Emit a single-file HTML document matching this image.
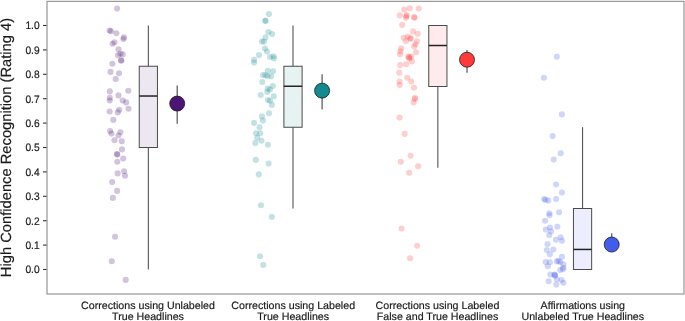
<!DOCTYPE html>
<html><head><meta charset="utf-8"><title>chart</title>
<style>
html,body{margin:0;padding:0;background:#fff;}
body{width:685px;height:321px;overflow:hidden;}
svg{display:block;}
text{text-rendering:geometricPrecision;stroke:#1a1a1a;stroke-width:0.18px;font-family:"Liberation Sans",Arial,sans-serif;fill:#1a1a1a;}
</style></head><body>
<svg width="685" height="321" viewBox="0 0 685 321">
<rect x="0" y="0" width="685" height="321" fill="#fff"/>
<rect x="47" y="1.38" width="637" height="292.62" fill="none" stroke="#9a9a9a" stroke-width="1.25"/>

<line x1="43" y1="269.50" x2="46.6" y2="269.50" stroke="#333" stroke-width="1.1"/>
<text transform="translate(39.6,273.45) scale(1,1.06)" font-size="10.2" text-anchor="end">0.0</text>
<line x1="43" y1="245.10" x2="46.6" y2="245.10" stroke="#333" stroke-width="1.1"/>
<text transform="translate(39.6,249.05) scale(1,1.06)" font-size="10.2" text-anchor="end">0.1</text>
<line x1="43" y1="220.70" x2="46.6" y2="220.70" stroke="#333" stroke-width="1.1"/>
<text transform="translate(39.6,224.65) scale(1,1.06)" font-size="10.2" text-anchor="end">0.2</text>
<line x1="43" y1="196.30" x2="46.6" y2="196.30" stroke="#333" stroke-width="1.1"/>
<text transform="translate(39.6,200.25) scale(1,1.06)" font-size="10.2" text-anchor="end">0.3</text>
<line x1="43" y1="171.90" x2="46.6" y2="171.90" stroke="#333" stroke-width="1.1"/>
<text transform="translate(39.6,175.85) scale(1,1.06)" font-size="10.2" text-anchor="end">0.4</text>
<line x1="43" y1="147.50" x2="46.6" y2="147.50" stroke="#333" stroke-width="1.1"/>
<text transform="translate(39.6,151.45) scale(1,1.06)" font-size="10.2" text-anchor="end">0.5</text>
<line x1="43" y1="123.10" x2="46.6" y2="123.10" stroke="#333" stroke-width="1.1"/>
<text transform="translate(39.6,127.05) scale(1,1.06)" font-size="10.2" text-anchor="end">0.6</text>
<line x1="43" y1="98.70" x2="46.6" y2="98.70" stroke="#333" stroke-width="1.1"/>
<text transform="translate(39.6,102.65) scale(1,1.06)" font-size="10.2" text-anchor="end">0.7</text>
<line x1="43" y1="74.30" x2="46.6" y2="74.30" stroke="#333" stroke-width="1.1"/>
<text transform="translate(39.6,78.25) scale(1,1.06)" font-size="10.2" text-anchor="end">0.8</text>
<line x1="43" y1="49.90" x2="46.6" y2="49.90" stroke="#333" stroke-width="1.1"/>
<text transform="translate(39.6,53.85) scale(1,1.06)" font-size="10.2" text-anchor="end">0.9</text>
<line x1="43" y1="25.50" x2="46.6" y2="25.50" stroke="#333" stroke-width="1.1"/>
<text transform="translate(39.6,29.45) scale(1,1.06)" font-size="10.2" text-anchor="end">1.0</text>
<text transform="translate(11.3,147.5) rotate(-90)" font-size="14.73" text-anchor="middle" fill="#111">High Confidence Recognition (Rating 4)</text>
<g fill="#4c1475" fill-opacity="0.25">
<circle cx="117.1" cy="8.6" r="3.05"/>
<circle cx="109.6" cy="30.6" r="3.05"/>
<circle cx="111.0" cy="31.3" r="3.05"/>
<circle cx="116.4" cy="33.2" r="3.05"/>
<circle cx="123.9" cy="37.4" r="3.05"/>
<circle cx="123.4" cy="39.0" r="3.05"/>
<circle cx="114.5" cy="42.3" r="3.05"/>
<circle cx="112.6" cy="43.7" r="3.05"/>
<circle cx="118.5" cy="49.3" r="3.05"/>
<circle cx="120.4" cy="53.7" r="3.05"/>
<circle cx="122.7" cy="54.4" r="3.05"/>
<circle cx="118.0" cy="55.3" r="3.05"/>
<circle cx="121.1" cy="60.2" r="3.05"/>
<circle cx="121.3" cy="60.8" r="3.05"/>
<circle cx="112.4" cy="63.7" r="3.05"/>
<circle cx="110.5" cy="71.9" r="3.05"/>
<circle cx="119.0" cy="73.3" r="3.05"/>
<circle cx="115.7" cy="79.0" r="3.05"/>
<circle cx="128.3" cy="90.7" r="3.05"/>
<circle cx="109.8" cy="91.4" r="3.05"/>
<circle cx="118.5" cy="95.4" r="3.05"/>
<circle cx="109.8" cy="97.7" r="3.05"/>
<circle cx="109.8" cy="100.5" r="3.05"/>
<circle cx="122.7" cy="100.5" r="3.05"/>
<circle cx="126.2" cy="102.4" r="3.05"/>
<circle cx="128.5" cy="108.7" r="3.05"/>
<circle cx="119.2" cy="109.8" r="3.05"/>
<circle cx="117.8" cy="112.4" r="3.05"/>
<circle cx="109.6" cy="111.5" r="3.05"/>
<circle cx="113.3" cy="119.9" r="3.05"/>
<circle cx="110.1" cy="131.1" r="3.05"/>
<circle cx="111.5" cy="133.6" r="3.05"/>
<circle cx="120.4" cy="132.2" r="3.05"/>
<circle cx="118.5" cy="135.5" r="3.05"/>
<circle cx="114.5" cy="140.3" r="3.05"/>
<circle cx="121.8" cy="141.2" r="3.05"/>
<circle cx="122.0" cy="149.4" r="3.05"/>
<circle cx="117.0" cy="154.1" r="3.05"/>
<circle cx="117.3" cy="154.6" r="3.05"/>
<circle cx="123.2" cy="158.5" r="3.05"/>
<circle cx="117.3" cy="161.8" r="3.05"/>
<circle cx="124.1" cy="171.3" r="3.05"/>
<circle cx="117.6" cy="173.4" r="3.05"/>
<circle cx="125.0" cy="175.8" r="3.05"/>
<circle cx="112.2" cy="182.1" r="3.05"/>
<circle cx="117.1" cy="190.9" r="3.05"/>
<circle cx="112.9" cy="197.9" r="3.05"/>
<circle cx="115.0" cy="236.8" r="3.05"/>
<circle cx="111.8" cy="261.3" r="3.05"/>
<circle cx="125.7" cy="279.9" r="3.05"/>
</g>
<line x1="148.35" y1="25.50" x2="148.35" y2="66.25" stroke="#555" stroke-width="1.1"/>
<line x1="148.35" y1="147.50" x2="148.35" y2="269.50" stroke="#555" stroke-width="1.1"/>
<rect x="139.25" y="66.25" width="18.2" height="81.25" fill="#fff"/>
<rect x="139.25" y="66.25" width="18.2" height="81.25" fill="#4c1475" fill-opacity="0.1" stroke="none"/>
<rect x="139.25" y="66.25" width="18.2" height="81.25" fill="none" stroke="#4a4a4a" stroke-width="1"/>
<line x1="139.25" y1="96.02" x2="157.45" y2="96.02" stroke="#222" stroke-width="1.5"/>
<line x1="177.2" y1="85.52" x2="177.2" y2="123.83" stroke="#555" stroke-width="1.2"/>
<circle cx="177.2" cy="103.58" r="7.5" fill="#4c1475" stroke="#151515" stroke-width="0.75"/>
<text x="148.0" y="308.5" font-size="10.67" text-anchor="middle">Corrections using Unlabeled</text>
<text x="148.0" y="319.9" font-size="10.67" text-anchor="middle">True Headlines</text>
<g fill="#138a8e" fill-opacity="0.25">
<circle cx="268.9" cy="14.0" r="3.05"/>
<circle cx="265.3" cy="20.6" r="3.05"/>
<circle cx="265.5" cy="21.0" r="3.05"/>
<circle cx="268.4" cy="32.0" r="3.05"/>
<circle cx="272.1" cy="34.1" r="3.05"/>
<circle cx="265.6" cy="37.4" r="3.05"/>
<circle cx="261.9" cy="41.6" r="3.05"/>
<circle cx="264.0" cy="41.6" r="3.05"/>
<circle cx="264.9" cy="48.6" r="3.05"/>
<circle cx="267.0" cy="51.6" r="3.05"/>
<circle cx="259.0" cy="55.1" r="3.05"/>
<circle cx="270.0" cy="57.0" r="3.05"/>
<circle cx="273.5" cy="56.3" r="3.05"/>
<circle cx="274.0" cy="58.4" r="3.05"/>
<circle cx="254.1" cy="59.8" r="3.05"/>
<circle cx="254.1" cy="62.6" r="3.05"/>
<circle cx="267.7" cy="70.7" r="3.05"/>
<circle cx="273.1" cy="71.2" r="3.05"/>
<circle cx="263.0" cy="75.0" r="3.05"/>
<circle cx="265.4" cy="75.3" r="3.05"/>
<circle cx="267.7" cy="76.0" r="3.05"/>
<circle cx="271.2" cy="76.2" r="3.05"/>
<circle cx="262.3" cy="82.0" r="3.05"/>
<circle cx="272.8" cy="86.0" r="3.05"/>
<circle cx="267.7" cy="88.6" r="3.05"/>
<circle cx="270.0" cy="89.5" r="3.05"/>
<circle cx="267.2" cy="91.9" r="3.05"/>
<circle cx="260.7" cy="95.1" r="3.05"/>
<circle cx="273.8" cy="96.3" r="3.05"/>
<circle cx="267.9" cy="100.0" r="3.05"/>
<circle cx="270.0" cy="100.7" r="3.05"/>
<circle cx="271.9" cy="104.9" r="3.05"/>
<circle cx="269.1" cy="113.3" r="3.05"/>
<circle cx="261.9" cy="116.4" r="3.05"/>
<circle cx="263.0" cy="120.6" r="3.05"/>
<circle cx="254.1" cy="122.9" r="3.05"/>
<circle cx="259.5" cy="127.3" r="3.05"/>
<circle cx="256.0" cy="133.2" r="3.05"/>
<circle cx="260.2" cy="133.2" r="3.05"/>
<circle cx="257.2" cy="137.8" r="3.05"/>
<circle cx="261.5" cy="140.8" r="3.05"/>
<circle cx="255.3" cy="143.1" r="3.05"/>
<circle cx="267.9" cy="144.7" r="3.05"/>
<circle cx="255.8" cy="159.9" r="3.05"/>
<circle cx="268.6" cy="163.6" r="3.05"/>
<circle cx="258.8" cy="174.4" r="3.05"/>
<circle cx="261.0" cy="205.2" r="3.05"/>
<circle cx="271.9" cy="216.9" r="3.05"/>
<circle cx="260.0" cy="256.2" r="3.05"/>
<circle cx="263.3" cy="265.0" r="3.05"/>
</g>
<line x1="293.0" y1="25.50" x2="293.0" y2="66.25" stroke="#555" stroke-width="1.1"/>
<line x1="293.0" y1="127.25" x2="293.0" y2="208.50" stroke="#555" stroke-width="1.1"/>
<rect x="283.90" y="66.25" width="18.2" height="61.00" fill="#fff"/>
<rect x="283.90" y="66.25" width="18.2" height="61.00" fill="#138a8e" fill-opacity="0.1" stroke="none"/>
<rect x="283.90" y="66.25" width="18.2" height="61.00" fill="none" stroke="#4a4a4a" stroke-width="1"/>
<line x1="283.90" y1="86.26" x2="302.10" y2="86.26" stroke="#222" stroke-width="1.5"/>
<line x1="322.1" y1="74.30" x2="322.1" y2="109.44" stroke="#555" stroke-width="1.2"/>
<circle cx="322.1" cy="90.65" r="7.5" fill="#138a8e" stroke="#151515" stroke-width="0.75"/>
<text x="293.2" y="308.5" font-size="10.67" text-anchor="middle">Corrections using Labeled</text>
<text x="293.2" y="319.9" font-size="10.67" text-anchor="middle">True Headlines</text>
<g fill="#ff3a3a" fill-opacity="0.25">
<circle cx="404.2" cy="9.5" r="3.05"/>
<circle cx="409.8" cy="8.3" r="3.05"/>
<circle cx="418.8" cy="8.5" r="3.05"/>
<circle cx="399.8" cy="15.4" r="3.05"/>
<circle cx="406.6" cy="15.1" r="3.05"/>
<circle cx="406.0" cy="17.8" r="3.05"/>
<circle cx="406.4" cy="16.2" r="3.05"/>
<circle cx="414.3" cy="17.4" r="3.05"/>
<circle cx="414.4" cy="17.5" r="3.05"/>
<circle cx="402.2" cy="24.9" r="3.05"/>
<circle cx="413.1" cy="31.4" r="3.05"/>
<circle cx="417.8" cy="33.7" r="3.05"/>
<circle cx="403.7" cy="37.7" r="3.05"/>
<circle cx="407.8" cy="36.6" r="3.05"/>
<circle cx="410.4" cy="38.3" r="3.05"/>
<circle cx="410.6" cy="38.7" r="3.05"/>
<circle cx="406.0" cy="41.2" r="3.05"/>
<circle cx="417.0" cy="41.2" r="3.05"/>
<circle cx="415.4" cy="44.2" r="3.05"/>
<circle cx="414.3" cy="46.6" r="3.05"/>
<circle cx="401.2" cy="48.3" r="3.05"/>
<circle cx="400.4" cy="51.3" r="3.05"/>
<circle cx="400.1" cy="54.3" r="3.05"/>
<circle cx="416.0" cy="52.2" r="3.05"/>
<circle cx="408.3" cy="56.6" r="3.05"/>
<circle cx="409.5" cy="58.4" r="3.05"/>
<circle cx="409.0" cy="57.4" r="3.05"/>
<circle cx="411.3" cy="56.6" r="3.05"/>
<circle cx="411.9" cy="61.4" r="3.05"/>
<circle cx="406.0" cy="64.2" r="3.05"/>
<circle cx="400.1" cy="65.1" r="3.05"/>
<circle cx="399.2" cy="72.8" r="3.05"/>
<circle cx="407.2" cy="77.8" r="3.05"/>
<circle cx="411.3" cy="81.5" r="3.05"/>
<circle cx="399.5" cy="81.5" r="3.05"/>
<circle cx="399.7" cy="85.1" r="3.05"/>
<circle cx="414.0" cy="87.8" r="3.05"/>
<circle cx="414.9" cy="97.9" r="3.05"/>
<circle cx="415.0" cy="99.1" r="3.05"/>
<circle cx="413.6" cy="102.4" r="3.05"/>
<circle cx="399.6" cy="117.6" r="3.05"/>
<circle cx="404.7" cy="133.9" r="3.05"/>
<circle cx="410.6" cy="155.7" r="3.05"/>
<circle cx="400.8" cy="161.8" r="3.05"/>
<circle cx="418.1" cy="166.2" r="3.05"/>
<circle cx="409.2" cy="172.7" r="3.05"/>
<circle cx="401.5" cy="228.5" r="3.05"/>
<circle cx="417.1" cy="245.8" r="3.05"/>
<circle cx="410.1" cy="258.2" r="3.05"/>
</g>
<line x1="437.85" y1="25.50" x2="437.85" y2="25.50" stroke="#555" stroke-width="1.1"/>
<line x1="437.85" y1="86.50" x2="437.85" y2="167.75" stroke="#555" stroke-width="1.1"/>
<rect x="428.75" y="25.50" width="18.2" height="61.00" fill="#fff"/>
<rect x="428.75" y="25.50" width="18.2" height="61.00" fill="#ff3a3a" fill-opacity="0.1" stroke="none"/>
<rect x="428.75" y="25.50" width="18.2" height="61.00" fill="none" stroke="#4a4a4a" stroke-width="1"/>
<line x1="428.75" y1="45.51" x2="446.95" y2="45.51" stroke="#222" stroke-width="1.5"/>
<line x1="467.0" y1="49.90" x2="467.0" y2="72.84" stroke="#555" stroke-width="1.2"/>
<circle cx="467.0" cy="59.71" r="7.5" fill="#ff3a3a" stroke="#151515" stroke-width="0.75"/>
<text x="437.5" y="308.5" font-size="10.67" text-anchor="middle">Corrections using Labeled</text>
<text x="437.5" y="319.9" font-size="10.67" text-anchor="middle">False and True Headlines</text>
<g fill="#425deb" fill-opacity="0.25">
<circle cx="556.8" cy="56.8" r="3.05"/>
<circle cx="543.9" cy="77.8" r="3.05"/>
<circle cx="561.9" cy="114.4" r="3.05"/>
<circle cx="552.6" cy="136.1" r="3.05"/>
<circle cx="560.7" cy="153.3" r="3.05"/>
<circle cx="553.7" cy="159.6" r="3.05"/>
<circle cx="556.1" cy="184.5" r="3.05"/>
<circle cx="561.9" cy="192.6" r="3.05"/>
<circle cx="544.1" cy="199.0" r="3.05"/>
<circle cx="545.5" cy="199.9" r="3.05"/>
<circle cx="548.3" cy="200.6" r="3.05"/>
<circle cx="556.1" cy="199.0" r="3.05"/>
<circle cx="559.1" cy="212.3" r="3.05"/>
<circle cx="549.3" cy="213.2" r="3.05"/>
<circle cx="549.5" cy="215.3" r="3.05"/>
<circle cx="545.1" cy="220.7" r="3.05"/>
<circle cx="557.3" cy="226.7" r="3.05"/>
<circle cx="550.0" cy="227.5" r="3.05"/>
<circle cx="545.8" cy="229.5" r="3.05"/>
<circle cx="551.1" cy="231.2" r="3.05"/>
<circle cx="549.2" cy="235.0" r="3.05"/>
<circle cx="560.6" cy="237.3" r="3.05"/>
<circle cx="556.0" cy="239.8" r="3.05"/>
<circle cx="562.0" cy="240.8" r="3.05"/>
<circle cx="547.5" cy="244.0" r="3.05"/>
<circle cx="553.3" cy="249.6" r="3.05"/>
<circle cx="546.8" cy="250.1" r="3.05"/>
<circle cx="549.8" cy="254.3" r="3.05"/>
<circle cx="562.0" cy="256.7" r="3.05"/>
<circle cx="545.7" cy="262.1" r="3.05"/>
<circle cx="549.8" cy="262.3" r="3.05"/>
<circle cx="556.9" cy="261.4" r="3.05"/>
<circle cx="558.5" cy="260.9" r="3.05"/>
<circle cx="560.2" cy="262.1" r="3.05"/>
<circle cx="547.8" cy="266.2" r="3.05"/>
<circle cx="563.4" cy="264.2" r="3.05"/>
<circle cx="563.4" cy="267.8" r="3.05"/>
<circle cx="562.8" cy="269.2" r="3.05"/>
<circle cx="560.1" cy="270.1" r="3.05"/>
<circle cx="550.4" cy="274.5" r="3.05"/>
<circle cx="554.5" cy="274.5" r="3.05"/>
<circle cx="555.1" cy="275.7" r="3.05"/>
<circle cx="554.8" cy="275.0" r="3.05"/>
<circle cx="556.9" cy="279.3" r="3.05"/>
<circle cx="548.6" cy="281.3" r="3.05"/>
<circle cx="561.6" cy="280.1" r="3.05"/>
<circle cx="563.4" cy="282.8" r="3.05"/>
<circle cx="556.3" cy="284.6" r="3.05"/>
</g>
<line x1="582.55" y1="127.25" x2="582.55" y2="208.50" stroke="#555" stroke-width="1.1"/>
<line x1="582.55" y1="269.50" x2="582.55" y2="269.50" stroke="#555" stroke-width="1.1"/>
<rect x="573.45" y="208.50" width="18.2" height="61.00" fill="#fff"/>
<rect x="573.45" y="208.50" width="18.2" height="61.00" fill="#425deb" fill-opacity="0.1" stroke="none"/>
<rect x="573.45" y="208.50" width="18.2" height="61.00" fill="none" stroke="#4a4a4a" stroke-width="1"/>
<line x1="573.45" y1="249.44" x2="591.65" y2="249.44" stroke="#222" stroke-width="1.5"/>
<line x1="611.7" y1="233.14" x2="611.7" y2="248.76" stroke="#555" stroke-width="1.2"/>
<circle cx="611.7" cy="244.56" r="7.5" fill="#425deb" stroke="#151515" stroke-width="0.75"/>
<text x="582.8" y="308.5" font-size="10.67" text-anchor="middle">Affirmations using</text>
<text x="582.8" y="319.9" font-size="10.67" text-anchor="middle">Unlabeled True Headlines</text>
</svg>
</body></html>
